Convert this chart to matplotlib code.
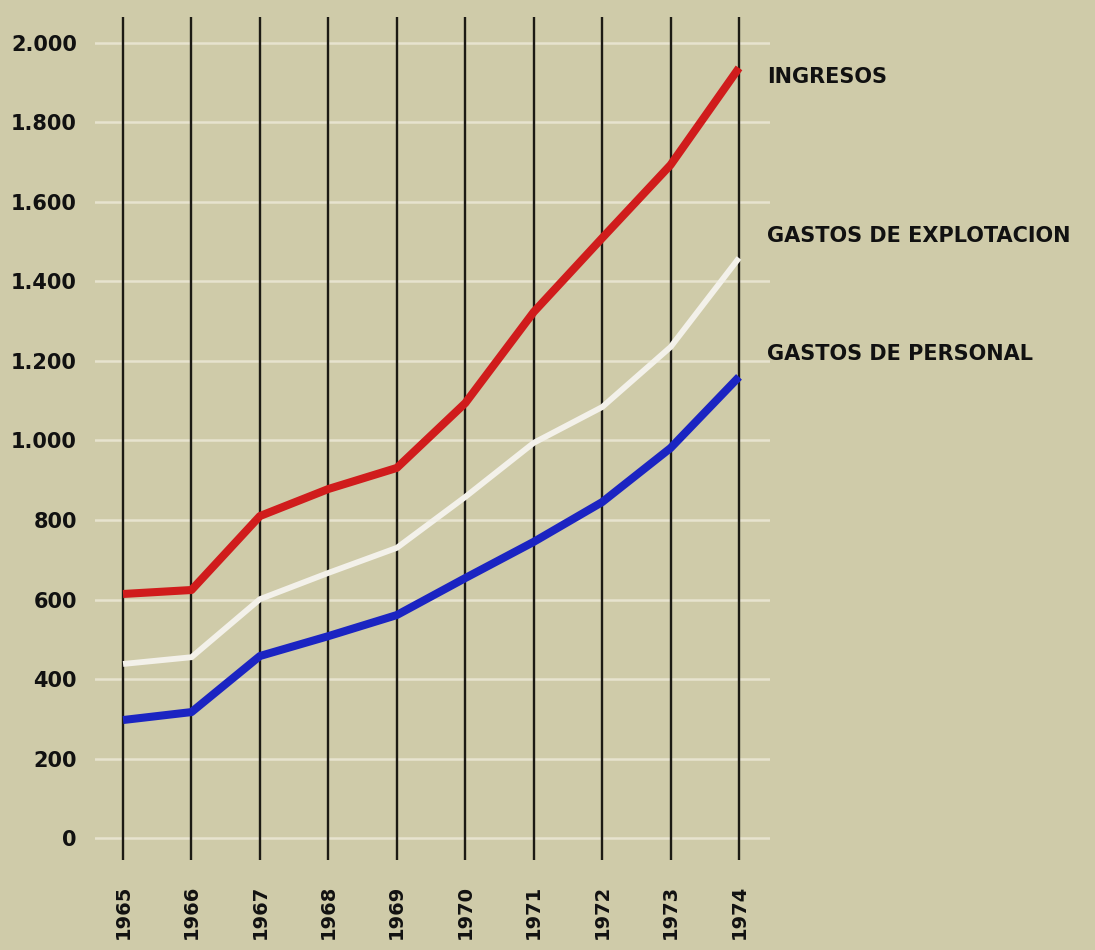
import matplotlib
matplotlib.use("Agg")
import matplotlib.pyplot as plt

years = [1965, 1966, 1967, 1968, 1969, 1970, 1971, 1972, 1973, 1974]
ingresos = [614, 624, 810, 878, 931, 1094, 1323, 1509, 1693, 1937]
gastos_explotacion = [438, 455, 601, 667, 730, 858, 994, 1084, 1235, 1459]
gastos_personal = [297, 317, 458, 508, 561, 654, 745, 845, 981, 1160]
y_ticks = [0, 200, 400, 600, 800, 1000, 1200, 1400, 1600, 1800, 2000]
y_tick_labels = ["0", "200", "400", "600", "800", "1.000", "1.200", "1.400",
                 "1.600", "1.800", "2.000"]
series_labels = ["INGRESOS", "GASTOS DE EXPLOTACION", "GASTOS DE PERSONAL"]
label_values = [1915, 1515, 1218]

bg = "#cfcba9"
fig = plt.figure(figsize=(10.95, 9.5), dpi=100, facecolor=bg)
ax = fig.add_axes([95 / 1095, 90 / 950, 675 / 1095, 843 / 950])
ax.set_facecolor(bg)
ax.set_xlim(1964.59, 1974.453)
ax.set_ylim(-55, 2065)
for s in ax.spines.values():
    s.set_visible(False)

# horizontal white grid lines
for t in y_ticks:
    ax.axhline(t, color="#f4f1e4", lw=1.8, alpha=0.65, zorder=1)

# vertical black lines
for yr in years:
    ax.axvline(yr, color="#1c1a14", lw=1.7, zorder=2)

ax.plot(years, gastos_explotacion, color="#f3f1ea", lw=4.2, zorder=3,
        solid_joinstyle="round", solid_capstyle="butt")
ax.plot(years, gastos_personal, color="#1b24c2", lw=5.8, zorder=4,
        solid_joinstyle="round", solid_capstyle="butt")
ax.plot(years, ingresos, color="#d01c1c", lw=5.8, zorder=5,
        solid_joinstyle="round", solid_capstyle="butt")

ax.set_yticks(y_ticks)
ax.set_yticklabels(y_tick_labels, fontsize=15, fontweight="bold",
                   family="DejaVu Sans", color="#111111")
ax.tick_params(axis="y", length=0, pad=13)
ax.set_xticks(years)
ax.set_xticklabels([str(y) for y in years], rotation=90, fontsize=14,
                   fontweight="bold", family="DejaVu Sans", color="#111111")
ax.tick_params(axis="x", length=0, pad=18)

for txt, yv in zip(series_labels, label_values):
    ax.annotate(txt, xy=(1974.453, yv), xycoords="data",
                xytext=(-3, 0), textcoords="offset pixels",
                fontsize=15, fontweight="bold", family="DejaVu Sans",
                color="#111111", va="center", ha="left", annotation_clip=False)

fig.savefig("out.png", dpi=100, facecolor=bg)
